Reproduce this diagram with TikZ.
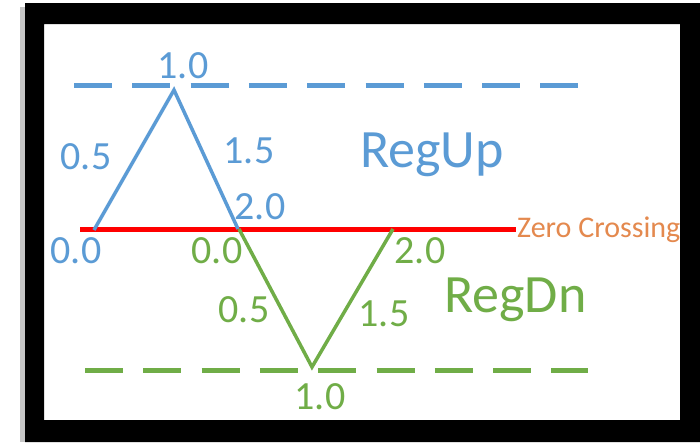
\documentclass[tikz,border=0pt]{standalone}
\usepackage{fontspec}
\setmainfont{Carlito}
\definecolor{upblue}{HTML}{5B9BD5}
\definecolor{dngreen}{HTML}{70AD47}
\definecolor{zcorange}{HTML}{E4894E}
\tikzset{
  numlbl/.style={inner sep=0pt, font=\fontsize{40}{40}\selectfont},
  reglbl/.style={inner sep=0pt, anchor=base west, font=\fontsize{54}{54}\selectfont},
  wave/.style={line width=3.5pt, line join=miter},
  levelline/.style={line width=5pt, dash pattern=on 38pt off 20.3pt},
}
\begin{document}
\begin{tikzpicture}[x=1pt,y=-1pt]
\useasboundingbox (0,0) rectangle (700,442);
\fill[white] (0,0) rectangle (700,442);
% coordinates
\coordinate (bs) at (94,230);
\coordinate (bp) at (174,90);
\coordinate (be) at (238,229);
\coordinate (gs) at (239,229);
\coordinate (gb) at (312,367);
\coordinate (ge) at (393,229);
\coordinate (bdl) at (74,85);
\coordinate (bdr) at (578,85);
\coordinate (gdl) at (85,370);
\coordinate (gdr) at (588,370);
\coordinate (zl) at (80,229);
\coordinate (zr) at (516,229);
% level lines
\draw[levelline, upblue] (bdl) -- (bdr);
\draw[levelline, dngreen] (gdl) -- (gdr);
% zero crossing
\draw[line width=5pt, red] (zl) -- (zr);
% waves
\draw[wave, upblue] (bs) -- (bp) -- (be);
\draw[wave, dngreen] (gs) -- (gb) -- (ge);
% labels
\node[numlbl, text=upblue] (u10) at (183,66) {1.0};
\node[numlbl, text=upblue] (u05) at (86,157) {0.5};
\node[numlbl, text=upblue] (u15) at (249,151) {1.5};
\node[numlbl, text=upblue] (u20) at (260,207) {2.0};
\node[numlbl, text=upblue] (u00) at (76,251) {0.0};
\node[numlbl, text=dngreen] (d00) at (217,251) {0.0};
\node[numlbl, text=dngreen] (d20) at (420,251) {2.0};
\node[numlbl, text=dngreen] (d05) at (244,310) {0.5};
\node[numlbl, text=dngreen] (d15) at (384,314) {1.5};
\node[numlbl, text=dngreen] (d10) at (320,397) {1.0};
\node[reglbl, text=upblue] (regup) at (360,167) {RegUp};
\node[reglbl, text=dngreen] (regdn) at (444,312) {RegDn};
\node[inner sep=0pt, anchor=base west, text=zcorange, font=\fontsize{30}{30}\selectfont] (zc) at (517,237) {Zero Crossing};
% frame with shadow
\fill[gray!45] (20,7) rectangle (25,442);
\fill[black, even odd rule] (25,3) rectangle (700,442) (44,24) rectangle (680,420);
\end{tikzpicture}
\end{document}
